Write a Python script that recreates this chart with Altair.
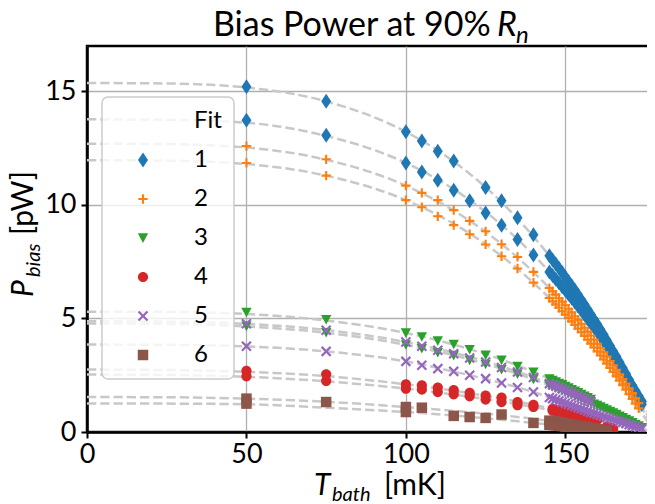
import altair as alt
import pandas as pd

FONT = "Lato"

# ---------------- legend categories / styling ----------------
FITS = ["Fit", "1", "2", "3", "4", "5", "6"]
COLORS = ["rgba(0,0,0,0)", "#1f77b4", "#ff7f0e", "#2ca02c", "#d62728", "#9467bd", "#8c564b"]
DIAMOND = "M0,-1L0.667,0L0,1L-0.667,0Z"
PLUS = "M-0.14,-0.62H0.14V-0.14H0.62V0.14H0.14V0.62H-0.14V0.14H-0.62V-0.14H-0.14Z"
TRI_DOWN = "M-0.69,-0.62L0.69,-0.62L0,0.66Z"
CIRCLE = "M0.68,0A0.68,0.68,0,1,1,-0.68,0A0.68,0.68,0,1,1,0.68,0Z"
XSHAPE = ("M0,-0.208L0.496,-0.704L0.704,-0.496L0.208,0L0.704,0.496L0.496,0.704"
          "L0,0.208L-0.496,0.704L-0.704,0.496L-0.208,0L-0.704,-0.496L-0.496,-0.704Z")
SQUARE = "M-0.7,-0.7H0.7V0.7H-0.7Z"
SHAPES = [SQUARE, DIAMOND, PLUS, TRI_DOWN, CIRCLE, XSHAPE, SQUARE]

# ---------------- measured points (T_bath in mK, P_bias in pW) ----------------
T_SPARSE = [50, 75, 100, 105, 110, 115, 120, 125, 130, 135, 140]
T_SPARSE_1A = [50, 75, 100, 105, 110, 115, 125, 130, 135, 140]
P1A = [15.20, 14.57, 13.22, 12.82, 12.37, 11.93, 10.77, 10.18, 9.44, 8.69]
P1B = [13.73, 13.07, 11.85, 11.45, 11.09, 10.65, 10.18, 9.65, 9.11, 8.48, 7.80]
P2A = [12.59, 12.01, 10.85, 10.53, 10.21, 9.77, 9.30, 8.84, 8.27, 7.71, 7.05]
P2B = [11.85, 11.29, 10.21, 9.90, 9.50, 9.11, 8.71, 8.26, 7.74, 7.20, 6.58]
P3A = [5.27, 4.95, 4.36, 4.19, 4.01, 3.86, 3.63, 3.38, 3.16, 2.89, 2.64]
P3B = [4.66, 4.38, 3.84, 3.67, 3.50, 3.37, 3.16, 2.98, 2.75, 2.55, 2.32]
P4A = [2.69, 2.54, 2.10, 2.06, 1.96, 1.84, 1.72, 1.60, 1.51, 1.32, 1.20]
P4B = [2.45, 2.25, 1.91, 1.87, 1.76, 1.66, 1.57, 1.43, 1.32, 1.18, 1.10]
P5A = [4.77, 4.48, 3.96, 3.78, 3.60, 3.45, 3.26, 3.08, 2.84, 2.64, 2.40]
P5B = [3.78, 3.55, 3.11, 2.94, 2.79, 2.67, 2.50, 2.35, 2.16, 1.96, 1.76]
T6A = [50, 75, 100, 105, 130]
P6A = [1.47, 1.32, 1.10, 1.07, 0.77]
T6B = [50, 100, 115, 120, 125, 140]
P6B = [1.25, 0.88, 0.71, 0.66, 0.62, 0.40]

# dense sweeps near T_c (1 mK steps starting at the given temperature)
D1A = (145, [7.76, 7.58, 7.40, 7.21, 7.02, 6.83, 6.63, 6.44, 6.24, 6.03, 5.82, 5.61, 5.40, 5.18, 4.96,
             4.74, 4.51, 4.28, 4.04, 3.80, 3.56, 3.32, 3.07, 2.82, 2.56, 2.30, 2.04, 1.77, 1.50, 1.22])
D1B = (145, [7.05, 6.89, 6.73, 6.57, 6.40, 6.24, 6.07, 5.89, 5.72, 5.54, 5.36, 5.17, 4.98, 4.79, 4.60,
             4.41, 4.21, 4.01, 3.80, 3.59, 3.38, 3.17, 2.95, 2.73, 2.51, 2.28, 2.05, 1.82, 1.59, 1.35])
D2A = (145, [6.34, 6.20, 6.05, 5.89, 5.74, 5.58, 5.43, 5.27, 5.10, 4.94, 4.77, 4.59, 4.42, 4.25, 4.07,
             3.88, 3.70, 3.51, 3.32, 3.13, 2.94, 2.74, 2.54, 2.33, 2.13, 1.92, 1.71, 1.49, 1.27])
D2B = (145, [5.90, 5.76, 5.62, 5.47, 5.32, 5.17, 5.02, 4.87, 4.71, 4.55, 4.39, 4.23, 4.06, 3.89, 3.72,
             3.55, 3.37, 3.19, 3.01, 2.82, 2.64, 2.45, 2.26, 2.06, 1.86, 1.66, 1.46, 1.25, 1.04])
D3A = (145, [2.34, 2.27, 2.21, 2.14, 2.08, 2.01, 1.94, 1.87, 1.80, 1.73, 1.66, 1.58, 1.51, 1.44])
D3B = (145, [2.06, 2.00, 1.95, 1.89, 1.84, 1.78, 1.72, 1.66, 1.60, 1.54, 1.48, 1.42, 1.36, 1.30, 1.23,
             1.17, 1.11, 1.04, 0.97, 0.91, 0.84, 0.77, 0.70, 0.63, 0.56, 0.49, 0.41, 0.34, 0.27, 0.19])
D4A = (146, [1.02, 0.99, 0.96, 0.93, 0.90, 0.87, 0.83, 0.80, 0.77, 0.73, 0.70, 0.67, 0.63, 0.60, 0.56])
D4B = (146, [0.94, 0.91, 0.89, 0.86, 0.83, 0.80, 0.77, 0.74, 0.72, 0.69, 0.66, 0.63, 0.60, 0.56, 0.53])
T4B_TAIL = [163, 164, 165]
P4B_TAIL = [0.24, 0.19, 0.14]
D5A = (145, [2.13, 2.07, 2.02, 1.96, 1.90, 1.84, 1.78, 1.72, 1.66, 1.59, 1.53, 1.47, 1.40, 1.34])
D5B = (145, [1.52, 1.47, 1.42, 1.37, 1.32, 1.27, 1.22, 1.17, 1.12, 1.07, 1.02, 0.97, 0.92, 0.87, 0.83,
             0.78, 0.74, 0.69, 0.64, 0.60, 0.55, 0.51, 0.46, 0.42, 0.37, 0.32, 0.28, 0.23, 0.18, 0.14])
D6A = (145, [0.50, 0.47, 0.45, 0.42, 0.40, 0.37, 0.35, 0.32, 0.30, 0.27, 0.25, 0.22, 0.20, 0.17, 0.15,
             0.12, 0.10, 0.07, 0.05])
D6B = (145, [0.32, 0.31, 0.29, 0.28, 0.26, 0.24, 0.23, 0.21, 0.19, 0.17, 0.16, 0.14, 0.12, 0.10, 0.09,
             0.07, 0.05, 0.03, 0.01])

# ---------------- fitted curves ----------------
T_CURVE = [0, 25, 50, 75, 100, 115, 130, 140, 150, 160, 170, 175, 180]
C1A = [15.37, 15.35, 15.17, 14.56, 13.22, 11.91, 10.12, 8.61, 6.83, 4.74, 2.30, 0.95, -0.50]
C1B = [13.77, 13.75, 13.62, 13.04, 11.85, 10.69, 9.12, 7.80, 6.24, 4.41, 2.28, 1.11, -0.16]
C2A = [12.70, 12.68, 12.53, 11.99, 10.85, 9.75, 8.28, 7.04, 5.58, 3.88, 1.92, 0.83, -0.33]
C2B = [11.97, 11.95, 11.80, 11.29, 10.21, 9.17, 7.75, 6.57, 5.17, 3.55, 1.66, 0.62, -0.51]
C3A = [5.30, 5.29, 5.20, 4.91, 4.36, 3.85, 3.19, 2.64, 2.01, 1.28, 0.45, 0.00, -0.48]
C3B = [4.78, 4.76, 4.65, 4.37, 3.84, 3.38, 2.79, 2.32, 1.78, 1.17, 0.49, 0.12, -0.28]
C4A = [2.75, 2.73, 2.65, 2.46, 2.10, 1.82, 1.47, 1.20, 0.90, 0.56, 0.19, 0.00, -0.22]
C4B = [2.53, 2.51, 2.43, 2.23, 1.91, 1.65, 1.34, 1.10, 0.83, 0.53, 0.21, 0.03, -0.18]
C5A = [4.88, 4.86, 4.76, 4.49, 3.96, 3.49, 2.89, 2.40, 1.84, 1.20, 0.48, 0.09, -0.33]
C5B = [3.85, 3.84, 3.77, 3.55, 3.11, 2.66, 2.16, 1.76, 1.27, 0.78, 0.32, 0.09, -0.15]
C6A = [1.54, 1.53, 1.47, 1.33, 1.10, 0.93, 0.74, 0.58, 0.37, 0.12, -0.13, -0.25, -0.38]
C6B = [1.25, 1.25, 1.22, 1.07, 0.88, 0.73, 0.54, 0.40, 0.24, 0.07, -0.12, -0.22, -0.32]

SERIES = [
    ("1a", "1", T_SPARSE_1A, P1A, D1A, C1A),
    ("1b", "1", T_SPARSE, P1B, D1B, C1B),
    ("2a", "2", T_SPARSE, P2A, D2A, C2A),
    ("2b", "2", T_SPARSE, P2B, D2B, C2B),
    ("3a", "3", T_SPARSE, P3A, D3A, C3A),
    ("3b", "3", T_SPARSE, P3B, D3B, C3B),
    ("4a", "4", T_SPARSE, P4A, D4A, C4A),
    ("4b", "4", T_SPARSE + T4B_TAIL, P4B + P4B_TAIL, D4B, C4B),
    ("5a", "5", T_SPARSE, P5A, D5A, C5A),
    ("5b", "5", T_SPARSE, P5B, D5B, C5B),
    ("6a", "6", T6A, P6A, D6A, C6A),
    ("6b", "6", T6B, P6B, D6B, C6B),
]

pt_rows, cv_rows = [], []
order = 0
for sid, fit, ts, ps, dense, curve in SERIES:
    start, vals = dense
    tt = list(ts) + [start + i for i in range(len(vals))]
    pp = list(ps) + list(vals)
    for t, p in zip(tt, pp):
        pt_rows.append({"T": t, "P": p, "fit": fit, "series": sid, "o": order})
        order += 1
    for t, p in zip(T_CURVE, curve):
        cv_rows.append({"T": t, "P": p, "series": sid})
points_df = pd.DataFrame(pt_rows)
curves_df = pd.DataFrame(cv_rows)

XS = alt.Scale(domain=[0, 180], nice=False, zero=False)
YS = alt.Scale(domain=[0, 17], nice=False, zero=False)

curves = alt.Chart(curves_df).mark_line(
    color="#c8c8c8", strokeWidth=2.5, strokeDash=[9.25, 4], clip=True, interpolate="monotone"
).encode(
    x=alt.X("T:Q", scale=XS, axis=alt.Axis(values=[0, 50, 100, 150], title=None, labelFlush=False,
                                           labelPadding=3)),
    y=alt.Y("P:Q", scale=YS, axis=alt.Axis(values=[0, 5, 10, 15], title=None, labelPadding=5)),
    detail="series:N",
)

points = alt.Chart(points_df).mark_point(
    filled=True, size=225, opacity=1, strokeWidth=0, clip=True
).encode(
    x=alt.X("T:Q", scale=XS),
    y=alt.Y("P:Q", scale=YS),
    color=alt.Color("fit:N", scale=alt.Scale(domain=FITS, range=COLORS), legend=alt.Legend(title=None)),
    shape=alt.Shape("fit:N", scale=alt.Scale(domain=FITS, range=SHAPES), legend=alt.Legend(title=None)),
    order=alt.Order("o:Q"),
)


def txt(text, x, y, size, style="normal", angle=0):
    return alt.Chart(alt.Data(values=[{"k": 0}])).mark_text(
        text=text, font=FONT, fontSize=size, fontStyle=style, align="left",
        baseline="alphabetic", angle=angle, color="black"
    ).encode(x=alt.value(x), y=alt.value(y))


texts = [
    # title
    txt("Bias Power at 90%", 126, -10, 34),
    txt("R", 410, -10, 34, "italic"),
    txt("n", 429, -3, 24, "italic"),
    # x axis title
    txt("T", 227, 449, 30, "italic"),
    txt("bath", 245, 455, 20, "italic"),
    txt("[mK]", 297, 449, 30),
    # y axis title
    txt("P", -54, 251, 30, "italic", 270),
    txt("bias", -47, 231, 20, "italic", 270),
    txt("[pW]", -54, 189, 30, "normal", 270),
]

chart = alt.layer(curves, points, *texts).properties(
    width=574, height=386,
    autosize=alt.AutoSizeParams(type="none"),
    padding={"left": 79, "top": 38, "right": -14, "bottom": 72},
).configure_view(
    stroke="black", strokeWidth=2.5
).configure_axis(
    labelFont=FONT, labelFontSize=27, labelColor="black",
    domainColor="black", domainWidth=2.5,
    tickColor="black", tickWidth=2, tickSize=6,
    gridColor="#b0b0b0", gridWidth=1.3,
).configure_legend(
    orient="none", legendX=15, legendY=51,
    padding=12, rowPadding=15, symbolSize=225, symbolOffset=17, labelOffset=39,
    symbolStrokeWidth=0,
    labelFont=FONT, labelFontSize=24, labelColor="black", labelLimit=200,
    fillColor="rgba(255,255,255,0.8)", strokeColor="#cccccc", strokeWidth=1.5, cornerRadius=6,
)

chart.save("out.html", embed_options={"renderer": "svg", "actions": False})
